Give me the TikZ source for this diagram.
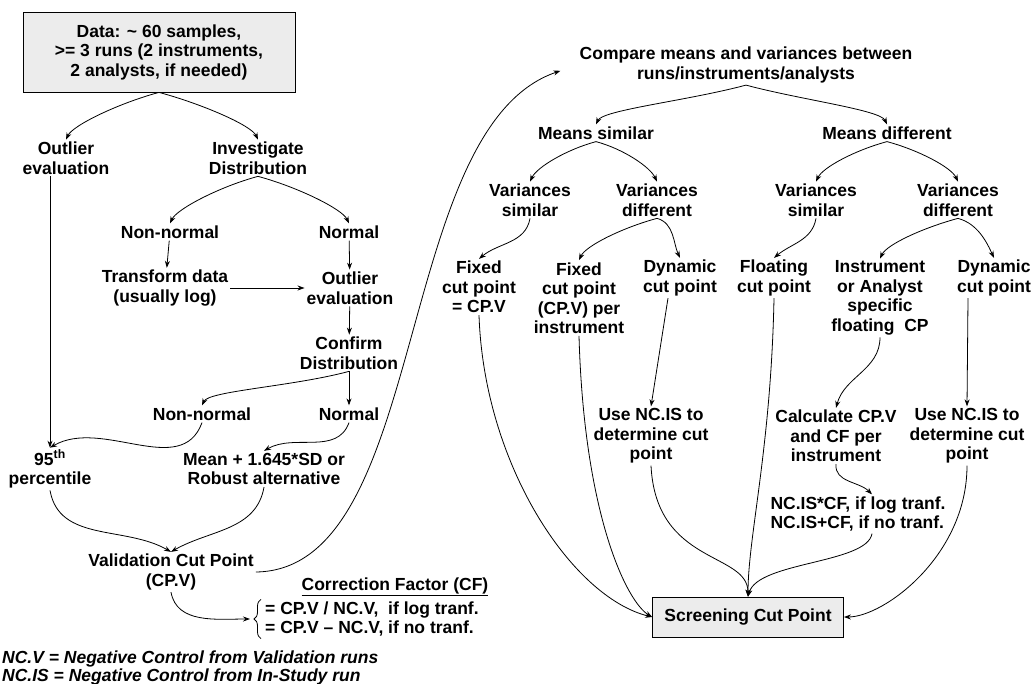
\documentclass[tikz,border=0pt]{standalone}
\usepackage{fontspec}
\setmainfont{Liberation Sans}
\usetikzlibrary{arrows.meta,decorations.pathreplacing}

\begin{document}
\begin{tikzpicture}[x=1pt, y={(0pt,-1pt)},
  font=\fontsize{17.5}{19.5}\selectfont\bfseries,
  lbl/.style={align=center, inner sep=2pt},
  cutbox/.style={draw, fill=gray!15, align=center, line width=0.8pt},
  arr/.style={-{Stealth[length=7pt,width=5pt]}, line width=0.8pt},
  splitl/.style={out=195, in=65, in distance=16pt},
  splitr/.style={out=-15, in=115, in distance=16pt},
  bendl/.style={out=-110, in=30}]
\useasboundingbox (0,0) rectangle (1035,684);

% left part: validation cut point
\node[cutbox, minimum width=272pt, minimum height=80pt] (data) at (159,52) {Data: \textasciitilde{} 60 samples,\\>= 3 runs (2 instruments,\\2 analysts, if needed)};
\node[lbl] (outl) at (66,158) {Outlier\\evaluation};
\node[lbl] (inv) at (258,158) {Investigate\\Distribution};
\node[lbl] (nn1) at (170,232) {Non-normal};
\node[lbl] (nor1) at (349,232) {Normal};
\node[lbl] (trans) at (165,288) {Transform data\\(usually log)};
\node[lbl] (outr) at (350,288) {Outlier\\evaluation};
\node[lbl] (conf) at (349,353) {Confirm\\Distribution};
\node[lbl] (nn2) at (202,414) {Non-normal};
\node[lbl] (nor2) at (349,414) {Normal};
\node[lbl] (p95) at (50,469) {95\textsuperscript{th}\\percentile};
\node[lbl] (mean) at (264,469) {Mean + 1.645*SD or\\Robust alternative};
\node[lbl] (val) at (171,572) {Validation Cut Point\\(CP.V)};
\node[lbl] (cfhead) at (395,587) {\underline{Correction Factor (CF)}};
\node[lbl, align=left, anchor=west] (cf) at (263,619) {= CP.V / NC.V,~ if log tranf.\\= CP.V -- NC.V, if no tranf.};
\node[lbl, align=left, anchor=west] (note1) at (0,659) {\itshape NC.V = Negative Control from Validation runs};
\node[lbl, align=left, anchor=west] (note2) at (0,677) {\itshape NC.IS = Negative Control from In-Study run};

\draw[arr] (data.south) to[splitl] (outl.north);
\draw[arr] (data.south) to[splitr] (inv.north);
\draw[arr] (inv.south) to[splitl] (nn1.north);
\draw[arr] (inv.south) to[splitr] (nor1.north);
\draw[arr] (nn1) -- (trans);
\draw[arr] (trans) -- (outr);
\draw[arr] (nor1) -- (outr);
\draw[arr] (outr) -- (conf);
\draw[arr] (conf.south) to[splitl] (nn2.north);
\draw[arr] (conf) -- (nor2);
\draw[arr] (p95.north |- outl.south) -- (p95.north);
\draw[arr] (nn2.south) to[bendl] (p95.north);
\draw[arr] (nor2.south) to[bendl] (mean.north);
\draw[arr] (p95.south) to[out=-80, in=150] (val.north);
\draw[arr] (mean.south) to[out=-100, in=30] (val.north);
\draw[arr] (val.south) to[out=-80, in=180] ([xshift=-13pt]cf.west);
\draw[decorate, decoration={brace, amplitude=7pt}, line width=0.8pt] ([xshift=-2pt]cf.south west) -- ([xshift=-2pt]cf.north west);

% right part: screening cut point
\node[lbl] (cmp) at (746,65) {Compare means and variances between\\runs/instruments/analysts};
\node[lbl] (msim) at (596,133) {Means similar};
\node[lbl] (mdif) at (887,133) {Means different};
\node[lbl] (vsim1) at (530,200) {Variances\\similar};
\node[lbl] (vdif1) at (657,200) {Variances\\different};
\node[lbl] (vsim2) at (816,200) {Variances\\similar};
\node[lbl] (vdif2) at (958,200) {Variances\\different};
\node[lbl] (fix1) at (479,287) {Fixed\\cut point\\= CP.V};
\node[lbl] (fix2) at (579,298) {Fixed\\cut point\\(CP.V) per\\instrument};
\node[lbl] (dyn1) at (680,278) {Dynamic\\cut point};
\node[lbl] (flt) at (774,278) {Floating\\cut point};
\node[lbl] (inst) at (880,298) {Instrument\\or Analyst\\specific\\floating~~CP};
\node[lbl] (dyn2) at (994,278) {Dynamic\\cut point};
\node[lbl] (use1) at (651,436) {Use NC.IS to\\determine cut\\point};
\node[lbl] (calc) at (836,436) {Calculate CP.V\\and CF per\\instrument};
\node[lbl] (use2) at (967,436) {Use NC.IS to\\determine cut\\point};
\node[lbl, align=left] (ncis) at (858,514) {NC.IS*CF, if log tranf.\\NC.IS+CF, if no tranf.};
\node[cutbox, minimum width=191pt, minimum height=40pt] (scp) at (748,617) {Screening Cut Point};

\draw[arr, shorten >=18pt] (val.east) .. controls (430,570) and (392,128) .. (cmp.west);
\draw[arr] (cmp.south) to[splitl] (msim.north);
\draw[arr] (cmp.south) to[splitr] (mdif.north);
\draw[arr] (msim.south) to[splitl] (vsim1.north);
\draw[arr] (msim.south) to[splitr] (vdif1.north);
\draw[arr] (mdif.south) to[splitl] (vsim2.north);
\draw[arr] (mdif.south) to[splitr] (vdif2.north);
\draw[arr] (vsim1.south) to[out=-100, in=40] (fix1.north);
\draw[arr] (vdif1.south) to[splitl] (fix2.north);
\draw[arr] (vdif1.south) to[splitr] (dyn1.north);
\draw[arr] (vsim2.south) to[out=-100, in=40] (flt.north);
\draw[arr] (vdif2.south) to[splitl] (inst.north);
\draw[arr] (vdif2.south) to[splitr] (dyn2.north);
\draw[arr] ([xshift=-12pt]dyn1.south) -- (use1.north);
\draw[arr] (inst.south) to[out=-90, in=75] (calc.north);
\draw[arr] ([xshift=-26pt]dyn2.south) -- (use2.north);
\draw[arr] (calc.south) to[out=-95, in=135] ([xshift=14pt]ncis.north);
\draw[arr] (fix1.south) .. controls +(5,150) and +(-80,-20) .. (scp.west);
\draw[arr] (fix2.south) .. controls +(5,180) and +(-25,-15) .. (scp.west);
\draw[arr] (use1.south) .. controls +(5,100) and +(0,-45) .. (scp.north);
\draw[arr] (flt.south) .. controls +(-3,150) and +(0,-60) .. (scp.north);
\draw[arr] ([xshift=14pt]ncis.south) .. controls +(-5,30) and +(10,-35) .. (scp.north);
\draw[arr] (use2.south) .. controls +(0,90) and +(40,0) .. (scp.east);
\end{tikzpicture}
\end{document}
